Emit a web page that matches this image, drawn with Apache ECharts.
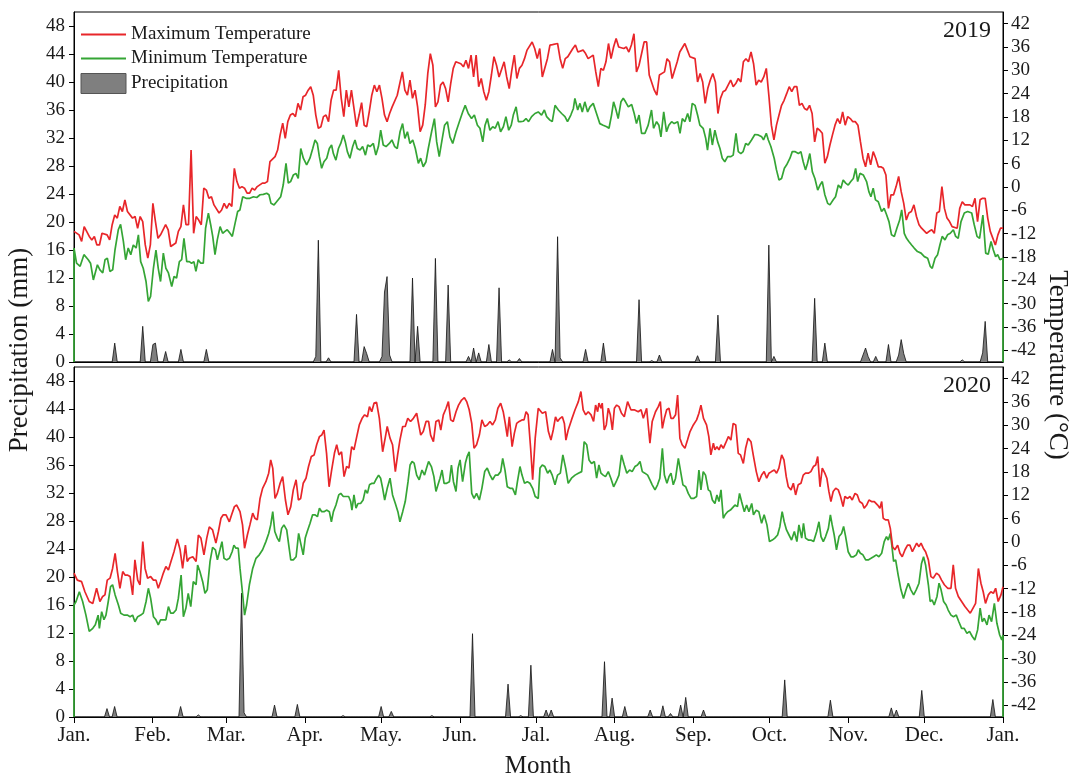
<!DOCTYPE html>
<html><head><meta charset="utf-8">
<script src="https://cdn.jsdelivr.net/npm/echarts@6/dist/echarts.min.js"></script>
<style>html,body{margin:0;padding:0;background:#fff}#c{width:1069px;height:777px}</style>
</head><body><div id="c"></div>
<script>
// ---------- data ----------
const monthLabels = ['Jan.','Feb.','Mar.','Apr.','May.','Jun.','Jal.','Aug.','Sep.','Oct.','Nov.','Dec.','Jan.'];
const monthStarts2019 = [0,31,59,90,120,151,181,212,243,273,304,334,365];
const monthStarts2020 = [0,31,60,91,121,152,182,213,244,274,305,335,366];
const precipTicks = [0,4,8,12,16,20,24,28,32,36,40,44,48];
const tempTicks = [-42,-36,-30,-24,-18,-12,-6,0,6,12,18,24,30,36,42];
const tempFloor = -45;

// [day of year, °C]
const maxT2019 = [[0,-11.4],[2,-12.3],[3,-14.0],[4,-10.2],[6,-12.7],[7,-13.6],[8,-12.7],[9,-14.9],[10,-14.9],[11,-11.9],[13,-12.3],[14,-13.6],[15,-9.7],[16,-7.2],[17,-8.0],[18,-5.0],[19,-6.3],[20,-3.3],[21,-6.3],[23,-8.0],[24,-7.6],[25,-10.6],[26,-7.6],[27,-8.9],[28,-14.9],[29,-18.3],[30,-14.9],[31,-4.2],[32,-8.9],[33,-13.2],[34,-12.3],[36,-9.7],[37,-11.0],[38,-15.3],[40,-14.4],[41,-11.4],[42,-10.2],[43,-4.6],[44,-9.7],[45,-9.7],[46,9.5],[47,-11.9],[48,-7.6],[49,-8.5],[50,-9.7],[51,-0.3],[52,-0.8],[53,-2.9],[54,-2.5],[55,-4.6],[57,-6.7],[58,-5.9],[59,-4.2],[60,-5.5],[61,-4.2],[62,-5.0],[63,4.8],[64,1.4],[65,-0.3],[66,0.1],[67,-0.3],[68,-1.6],[69,-1.6],[70,-0.3],[71,-0.8],[72,0.1],[74,1.0],[75,1.0],[76,1.4],[77,6.5],[79,7.8],[80,9.5],[81,13.4],[82,16.4],[83,12.5],[84,16.8],[85,18.5],[86,18.9],[87,18.1],[88,21.5],[89,19.8],[90,23.2],[91,23.6],[92,24.9],[93,25.8],[94,23.6],[95,18.5],[96,15.1],[97,15.5],[98,18.1],[99,18.5],[100,16.8],[101,22.3],[102,24.9],[103,24.9],[104,30.0],[105,22.8],[106,18.1],[107,24.9],[108,20.6],[109,24.9],[110,20.2],[111,15.5],[112,18.5],[113,21.7],[114,15.9],[115,15.5],[116,19.3],[117,23.6],[118,26.2],[119,24.5],[120,26.2],[121,22.8],[122,18.5],[123,16.8],[124,18.9],[125,20.6],[127,23.6],[128,26.6],[129,29.6],[130,24.9],[131,23.6],[132,27.5],[133,22.8],[134,24.9],[135,20.6],[136,14.2],[137,15.9],[138,21.1],[139,29.2],[140,34.3],[141,31.3],[142,20.6],[143,21.9],[144,26.2],[145,27.0],[146,25.3],[147,21.9],[148,26.6],[149,30.5],[150,32.2],[152,31.7],[153,30.9],[154,32.6],[155,30.5],[156,33.9],[157,28.3],[158,33.9],[159,25.8],[160,27.9],[161,24.5],[162,22.3],[163,24.5],[164,28.8],[165,33.5],[166,31.3],[167,28.3],[169,32.2],[170,28.3],[171,25.3],[172,30.0],[173,33.9],[174,27.9],[175,30.5],[176,31.3],[177,33.0],[178,35.2],[180,37.3],[181,35.6],[182,33.0],
[183,35.6],[184,28.3],[186,33.0],[187,36.5],[188,36.6],[190,36.9],[191,33.0],[192,30.5],[193,33.0],[194,33.5],[196,35.6],[197,36.5],[198,34.7],[200,35.2],[201,34.3],[202,33.0],[204,33.9],[205,29.6],[206,25.8],[207,30.5],[208,30.0],[209,32.2],[210,36.9],[211,33.0],[212,36.0],[213,38.2],[214,36.0],[216,35.6],[217,36.0],[218,34.7],[219,36.5],[220,39.4],[221,29.6],[222,31.3],[224,37.3],[225,37.3],[226,28.8],[228,24.9],[229,23.6],[230,28.8],[232,29.6],[233,33.0],[234,32.2],[235,27.9],[237,32.2],[238,34.7],[240,36.9],[241,35.2],[242,33.5],[244,33.0],[245,27.0],[246,29.2],[247,27.0],[248,21.5],[249,25.3],[250,27.5],[251,29.2],[252,27.0],[253,18.9],[254,22.8],[255,24.5],[256,24.9],[257,26.2],[258,27.5],[259,25.8],[260,26.6],[261,27.9],[262,27.0],[263,32.2],[264,33.0],[265,32.2],[266,34.7],[267,31.7],[268,26.2],[269,27.5],[270,27.0],[271,28.3],[272,30.5],[273,23.6],[274,15.9],[275,12.1],[276,15.9],[277,18.5],[278,21.0],[279,22.3],[280,24.0],[281,25.8],[282,24.5],[283,25.8],[284,25.8],[285,21.0],[286,21.5],[287,20.2],[288,19.8],[289,21.0],[290,18.9],[291,11.6],[292,15.1],[293,14.6],[294,13.8],[295,6.1],[296,7.8],[297,10.8],[298,13.4],[299,15.9],[300,17.6],[301,16.3],[302,19.3],[303,15.9],[304,18.1],[305,17.6],[306,16.8],[307,16.8],[308,15.9],[309,11.6],[310,7.4],[311,5.2],[312,8.7],[313,5.7],[314,9.1],[315,7.4],[316,5.2],[317,5.2],[318,4.8],[319,3.1],[320,-5.5],[321,-2.0],[322,-2.0],[323,0.1],[324,2.7],[325,-1.2],[326,-4.2],[327,-8.5],[328,-6.7],[329,-6.3],[330,-4.6],[331,-7.6],[332,-9.7],[333,-10.6],[335,-11.9],[336,-11.4],[337,-11.0],[338,-11.9],[339,-6.7],[340,-6.3],[341,0.1],[342,-5.5],[343,-8.0],[344,-8.9],[345,-10.2],[347,-10.6],[348,-5.5],[349,-3.8],[350,-4.6],[352,-4.6],[353,-5.0],[354,-2.9],[355,-8.9],[356,-3.3],[357,-2.9],[358,-2.9],[359,-8.0],[360,-11.4],[362,-14.9],[363,-12.3],[364,-10.6],[365,-10.6]];

const minT2019 = [[0,-15.7],[1,-19.6],[2.4,-20.4],[3.9,-17.4],[5.6,-18.7],[6.5,-19.6],[7.6,-23.9],[8.3,-24.3],[9.2,-20.0],[10.2,-21.3],[11.3,-22.1],[12.2,-18.7],[13.1,-18.3],[14.1,-21.7],[15.2,-21.3],[16.1,-16.2],[17.4,-11.0],[18.3,-9.6],[19.4,-14.0],[20.3,-18.7],[21.3,-15.7],[22.3,-17.4],[23.3,-14.9],[24.4,-15.7],[25.3,-12.3],[26.2,-19.2],[27.2,-20.9],[28.3,-24.3],[29.2,-29.4],[30.1,-28.1],[31.2,-20.9],[32.2,-16.2],[33.1,-20.9],[34.0,-24.3],[35.1,-17.0],[36.1,-20.9],[37.1,-22.1],[38.4,-25.6],[39.3,-23.0],[40.3,-23.4],[41.4,-19.2],[42.3,-18.7],[43.2,-13.2],[44.3,-19.2],[45.3,-19.2],[46.2,-19.6],[47.1,-19.2],[47.9,-21.7],[48.8,-18.7],[49.8,-19.6],[50.8,-19.6],[51.7,-10.6],[52.8,-6.7],[53.7,-9.7],[54.5,-12.7],[55.4,-17.4],[56.3,-13.6],[57.4,-10.2],[58.4,-11.9],[59.3,-11.4],[60.2,-11.0],[61.3,-11.9],[62.2,-12.7],[63.3,-9.3],[64.3,-6.3],[65.2,-5.9],[66.3,-2.5],[67.6,-2.9],[69.1,-2.9],[70.5,-2.5],[71.8,-2.7],[73.1,-2.0],[74.4,-1.9],[75.7,-1.6],[76.6,-2.0],[77.4,-4.2],[78.6,-4.6],[79.6,-3.8],[81.2,-2.5],[82.2,0.5],[83.3,6.1],[84.2,1.0],[85.1,1.4],[86.2,3.1],[87.2,3.5],[88.1,2.2],[89.1,9.9],[90.1,7.4],[91.4,5.7],[92.7,7.4],[93.8,9.9],[94.7,12.1],[95.6,11.2],[96.4,7.8],[97.3,4.8],[98.2,6.5],[99.3,7.4],[100.3,9.9],[101.2,10.8],[101.9,8.6],[102.9,6.9],[103.9,9.9],[104.8,11.2],[105.8,13.4],[106.6,11.6],[107.4,9.1],[108.4,7.4],[109.5,10.4],[110.4,12.1],[111.3,9.9],[112.4,9.5],[113.4,10.4],[114.5,8.2],[115.4,10.8],[116.3,10.4],[117.6,11.2],[118.6,8.2],[119.6,10.4],[120.5,14.6],[121.5,10.8],[122.6,10.4],[123.9,11.2],[124.9,12.1],[126.0,10.4],[127.0,9.9],[128.1,14.2],[129.1,16.3],[130.0,12.5],[131.0,14.2],[132.0,11.2],[133.1,12.1],[134.1,9.9],[135.3,6.1],[136.2,7.4],[137.2,5.2],[138.3,6.5],[139.2,9.9],[140.5,14.2],[141.6,17.6],[142.5,11.6],[143.5,7.8],[144.6,12.1],[145.6,15.9],[146.7,16.8],[147.7,12.9],[148.8,11.2],[150.1,14.2],[151.4,16.8],[152.7,19.3],[153.7,21.0],[154.9,18.9],[156.2,17.6],[157.3,18.5],[158.5,15.9],[159.5,15.1],[160.6,11.6],[161.5,15.9],[162.4,17.6],[163.4,14.6],[164.5,15.5],[165.5,15.1],[166.6,16.8],[167.6,14.2],[168.7,15.5],[169.7,18.1],[170.8,14.6],[171.8,15.9],[172.6,18.5],[173.7,20.6],[174.6,16.8],[175.5,16.8],[176.5,16.9],[177.6,17.6],[178.6,16.8],[179.8,18.1],[181.1,18.9],[182.4,19.3],
[183.1,19.8],[183.7,18.5],[184.8,19.8],[185.7,18.1],[187.0,17.2],[187.9,16.8],[189.0,21.0],[190.3,19.8],[191.6,18.9],[192.9,18.1],[193.9,16.8],[195.2,18.5],[196.2,20.2],[196.8,22.8],[197.9,19.8],[198.8,21.5],[199.7,19.3],[200.7,21.9],[201.8,19.3],[202.7,20.6],[204.0,21.5],[205.3,18.9],[206.6,16.3],[207.9,15.9],[209.3,15.5],[210.2,15.1],[211.2,18.5],[212.0,21.9],[212.8,20.2],[213.8,17.6],[214.9,21.9],[215.8,22.8],[216.7,21.9],[217.8,20.6],[219.1,21.2],[220.1,18.9],[221.0,16.3],[222.0,18.5],[223.0,13.8],[224.3,13.8],[225.6,15.9],[226.9,19.8],[227.7,15.1],[228.9,16.8],[229.8,15.9],[230.6,12.9],[231.7,19.3],[232.8,14.2],[233.7,15.9],[234.8,16.8],[235.8,16.3],[237.2,16.8],[238.1,13.8],[239.0,17.6],[240.0,16.8],[241.1,18.9],[242.0,16.8],[242.9,21.5],[244.0,21.0],[245.0,18.5],[245.9,15.9],[247.2,15.1],[248.2,12.5],[248.9,9.5],[249.9,15.1],[250.8,10.8],[251.8,14.6],[252.9,11.6],[253.8,9.9],[254.7,7.4],[255.7,6.5],[256.8,7.8],[258.1,7.8],[259.0,8.2],[260.1,13.8],[261.0,9.1],[262.0,8.6],[262.9,9.1],[263.9,11.2],[264.9,10.8],[266.2,12.1],[267.5,13.5],[268.8,13.4],[270.2,12.9],[270.9,12.1],[272.0,13.8],[272.8,12.1],[273.8,10.4],[275.1,7.4],[276.0,4.4],[277.0,1.8],[278.0,2.2],[279.1,4.8],[280.0,5.7],[281.3,7.4],[282.2,9.1],[283.2,9.1],[284.6,8.6],[285.6,9.1],[286.5,6.5],[287.4,4.4],[288.2,6.1],[289.1,8.6],[290.1,3.9],[291.1,2.2],[292.2,-0.8],[293.1,0.5],[294.0,1.4],[295.0,-2.0],[296.1,-4.2],[297.0,-4.6],[298.3,-3.3],[299.2,-2.5],[300.3,0.5],[301.3,-0.3],[302.2,1.8],[303.2,1.0],[304.2,0.5],[305.2,1.4],[306.2,2.2],[307.1,4.8],[307.9,1.4],[308.8,3.5],[310.1,3.1],[311.4,1.4],[312.3,-1.2],[313.1,-2.5],[314.0,-0.3],[314.9,-3.3],[316.0,-3.8],[317.3,-6.3],[318.3,-5.5],[319.3,-7.2],[320.2,-8.9],[321.2,-12.3],[322.3,-12.7],[323.3,-10.6],[324.4,-8.5],[325.2,-5.9],[326.2,-11.9],[327.1,-13.2],[328.0,-14.0],[329.1,-14.9],[330.1,-15.7],[331.4,-16.6],[332.8,-17.0],[334.1,-17.9],[335.4,-18.3],[336.4,-20.4],[337.2,-20.9],[338.3,-18.3],[339.3,-17.4],[340.2,-14.9],[341.1,-12.7],[342.2,-13.6],[343.2,-12.3],[344.3,-11.9],[345.5,-11.0],[346.4,-12.7],[347.4,-13.2],[348.5,-8.9],[349.8,-6.7],[351.1,-6.3],[352.7,-6.7],[353.7,-9.7],[354.8,-12.7],[355.8,-13.2],[357.1,-7.2],[358.2,-17.0],[359.2,-17.3],[360.3,-14.0],[361.2,-16.2],[362.1,-17.9],[362.9,-17.4],[363.8,-18.7],[365,-18.3]];

// [day of year, mm] (days not listed: 0 mm)
const precip2019 = [[16,2.7],[27,5.1],[31,2.5],[32,2.7],[36,1.5],[42,1.8],[52,1.8],[95,0.8],[96,17.4],[100,0.6],[111,6.8],[114,2.2],[115,1.2],[121,0.8],[122,10.0],[123,12.2],[124,1.0],[133,12.0],[135,5.1],[142,14.8],[147,11.0],[155,0.8],[157,2.0],[159,1.3],[163,2.5],[167,10.6],[171,0.3],[175,0.5],[188,1.8],[190,17.9],[191,0.6],[201,1.8],[208,2.7],[222,8.9],[227,0.2],[230,1.0],[245,0.9],[253,6.7],[273,16.7],[275,0.8],[291,9.1],[295,2.7],[310,1.0],[311,2.0],[312,0.8],[315,0.8],[320,2.5],[324,1.0],[325,3.2],[326,1.2],[349,0.3],[357,1.3],[358,5.8]];

const maxT2020 = [[0,-8.0],[1.3,-9.8],[3.0,-10.2],[4.3,-12.8],[6.0,-15.3],[7.4,-15.8],[8.9,-11.9],[10.2,-15.3],[11.3,-14.0],[12.2,-13.6],[13.1,-9.8],[14.2,-9.3],[15.2,-6.8],[16.2,-2.9],[17.1,-7.6],[18.1,-11.9],[19.2,-7.6],[20.1,-8.5],[21.0,-8.5],[22.1,-8.9],[23.1,-13.6],[24.0,-4.6],[25.1,-9.8],[26.0,-11.0],[27.1,0.1],[28.0,-6.8],[29.0,-9.3],[30.2,-8.9],[31.3,-9.8],[32.3,-9.8],[33.2,-11.9],[34.1,-10.2],[35.2,-8.0],[36.2,-6.3],[37.2,-7.2],[38.2,-5.0],[39.4,-2.5],[40.7,0.8],[41.8,-2.0],[42.8,-6.8],[43.9,-0.8],[44.6,-5.0],[45.4,-4.2],[46.8,-3.8],[48.1,-5.0],[49.0,1.8],[50.0,1.0],[51.2,-3.3],[52.3,1.0],[53.3,3.9],[54.6,3.1],[55.9,-0.3],[56.9,2.7],[57.9,6.1],[58.8,7.0],[59.9,7.0],[61.2,5.2],[62.1,7.0],[63.2,9.1],[64.1,9.5],[65.4,7.8],[66.4,4.4],[67.2,-1.6],[68.3,1.8],[69.3,4.4],[70.4,7.4],[71.3,6.1],[72.2,5.7],[73.3,11.2],[74.3,13.8],[75.6,15.5],[76.7,17.7],[77.5,21.1],[78.3,19.0],[79.2,11.2],[80.1,12.5],[81.2,15.1],[82.2,16.8],[83.3,10.8],[84.3,7.0],[85.4,9.1],[86.4,13.4],[87.5,16.0],[88.4,10.8],[89.3,11.2],[90.3,15.1],[91.4,16.4],[92.4,19.4],[93.5,22.0],[94.6,22.4],[95.6,25.0],[96.7,27.1],[97.6,27.5],[98.5,28.8],[99.5,22.8],[100.5,14.2],[101.5,18.5],[102.6,22.8],[103.5,25.0],[104.4,22.4],[105.4,23.2],[106.4,16.8],[107.4,19.4],[108.3,19.0],[109.4,24.5],[110.3,23.7],[111.4,27.1],[112.4,30.1],[113.5,31.8],[114.5,32.7],[115.6,32.2],[116.4,34.8],[117.3,33.5],[118.2,35.7],[119.2,35.9],[120.3,31.8],[121.6,23.2],[122.7,27.1],[123.4,29.7],[124.5,26.7],[125.5,25.0],[126.6,18.1],[127.5,22.4],[128.4,26.2],[129.5,29.7],[130.5,29.7],[131.5,31.8],[132.6,31.0],[133.7,31.8],[135.0,33.1],[135.7,33.5],[136.6,27.5],[137.6,28.4],[138.7,31.0],[139.7,31.0],[140.5,27.5],[141.6,25.8],[142.6,31.0],[143.7,31.4],[144.5,28.8],[145.5,32.7],[146.6,34.4],[147.5,36.1],[148.4,31.4],[149.4,31.0],[150.5,33.5],[151.5,35.2],[152.7,36.5],[153.8,37.1],[154.7,36.1],[155.7,34.0],[156.7,30.5],[157.6,24.1],[158.6,25.0],[159.7,27.5],[160.7,31.4],[161.8,29.7],[162.8,30.1],[163.9,31.0],[164.9,30.1],[166.0,31.4],[167.0,34.4],[168.1,35.7],[169.1,33.5],[169.9,30.5],[170.7,27.1],[171.5,32.2],[172.6,24.5],[173.5,28.0],[174.4,30.5],[175.4,31.0],[176.5,31.4],[177.3,31.4],[178.1,33.5],[178.9,32.7],[179.9,24.1],[180.7,16.0],[181.7,26.7],[182.9,34.4],
[184.5,33.1],[185.8,33.5],[186.9,28.4],[187.9,26.2],[188.8,28.8],[189.7,32.2],[190.5,31.0],[191.5,31.8],[192.4,32.2],[193.2,30.5],[193.8,26.2],[194.7,28.8],[196.0,31.4],[197.4,34.0],[198.7,36.1],[199.7,38.7],[200.6,34.0],[201.6,32.7],[202.6,33.5],[203.7,32.7],[204.7,31.0],[205.5,35.2],[206.3,33.5],[206.8,35.7],[207.6,34.4],[208.1,35.7],[208.9,28.8],[209.7,30.1],[210.5,34.4],[211.3,32.7],[212.1,28.8],[212.9,34.4],[213.8,35.2],[214.7,34.8],[215.7,33.1],[216.8,32.2],[218.1,36.1],[219.4,34.0],[220.7,34.0],[222.3,33.5],[223.4,34.0],[224.3,31.8],[225.6,34.4],[226.9,25.4],[227.8,31.0],[229.1,33.5],[230.2,34.8],[231.0,36.1],[231.8,29.2],[232.6,31.8],[233.5,34.0],[234.4,34.4],[235.2,31.8],[236.1,31.8],[237.0,32.7],[237.8,37.8],[238.7,26.7],[239.6,25.0],[240.7,24.1],[241.7,26.2],[242.7,28.4],[244.0,30.1],[245.3,31.4],[246.2,33.1],[247.0,35.2],[248.0,31.8],[249.2,30.1],[250.1,27.1],[250.9,22.4],[251.9,25.4],[252.5,23.7],[253.3,24.5],[254.1,23.7],[254.9,25.0],[255.8,24.1],[256.7,25.4],[257.8,27.1],[258.8,26.2],[259.7,30.5],[260.7,30.1],[261.7,22.8],[262.6,22.4],[263.7,20.2],[264.6,24.1],[265.6,26.7],[266.7,25.8],[267.7,22.0],[268.8,18.1],[269.8,15.5],[270.9,17.2],[271.9,18.1],[272.9,16.4],[273.8,17.7],[274.8,18.1],[275.9,18.5],[276.8,17.7],[277.7,19.0],[278.8,22.4],[279.7,21.1],[280.6,16.8],[281.4,14.2],[282.5,13.4],[283.4,15.1],[284.3,12.1],[285.3,14.7],[286.4,15.1],[287.3,17.2],[288.2,17.7],[289.3,17.7],[290.3,18.1],[291.3,19.4],[292.2,19.8],[293.0,22.0],[293.9,14.2],[294.8,19.0],[295.8,17.7],[296.6,16.4],[297.4,13.0],[298.2,10.4],[299.1,13.0],[300.1,13.8],[301.1,13.4],[302.0,11.7],[303.0,9.1],[303.7,11.7],[304.8,11.2],[305.7,11.7],[306.6,10.8],[307.7,12.5],[308.6,12.1],[309.5,10.4],[310.6,9.9],[311.3,8.7],[312.3,9.5],[313.2,10.8],[314.2,10.4],[315.3,10.4],[316.6,9.5],[317.5,8.7],[318.2,10.4],[318.8,6.1],[319.7,5.7],[320.8,5.7],[321.6,3.5],[322.5,-1.2],[323.4,-2.0],[324.5,-0.8],[325.4,-2.9],[326.3,-3.8],[327.4,-2.0],[328.4,-0.8],[329.3,-0.8],[330.3,-2.5],[331.0,-2.9],[332.0,-0.3],[332.9,-1.2],[333.7,-0.3],[334.6,-1.6],[335.5,-2.5],[336.6,-4.6],[337.6,-8.9],[338.5,-9.3],[339.8,-8.0],[340.8,-8.5],[341.8,-9.8],[342.9,-11.0],[344.2,-11.9],[345.5,-11.9],[346.4,-5.9],[347.3,-11.9],[348.4,-14.0],[349.7,-15.3],[351.0,-16.6],[352.1,-17.5],[353.1,-18.3],[354.2,-17.0],[355.2,-15.8],[356.3,-6.8],[357.3,-10.6],[358.2,-12.8],[359.1,-15.8],[360.2,-13.6],[361.2,-12.8],[362.2,-13.2],[363.1,-11.9],[364.1,-15.3],[365.2,-13.6],[366,-11.5]];

const minT2020 = [[0,-16.2],[0.8,-15.3],[2.1,-12.8],[3.4,-15.3],[4.7,-18.8],[6.0,-23.0],[7.4,-22.2],[8.4,-21.3],[9.5,-18.8],[10.0,-22.2],[10.9,-17.9],[11.8,-20.0],[12.6,-18.8],[13.5,-15.3],[14.4,-11.5],[15.2,-11.0],[16.2,-13.6],[17.5,-16.2],[18.4,-18.3],[19.7,-18.8],[21.0,-18.8],[22.1,-19.2],[23.1,-18.8],[24.0,-20.5],[25.1,-19.2],[26.3,-18.8],[27.3,-18.3],[28.4,-15.3],[29.3,-11.9],[30.2,-14.5],[31.3,-19.2],[32.3,-20.0],[33.2,-21.3],[34.1,-20.0],[35.2,-20.0],[36.2,-20.0],[37.2,-16.6],[38.1,-18.3],[39.1,-18.3],[40.2,-17.5],[41.1,-14.5],[42.2,-8.5],[43.1,-19.2],[44.1,-17.0],[45.0,-13.2],[46.0,-16.6],[47.0,-10.2],[48.1,-11.0],[48.7,-5.9],[49.6,-7.6],[50.7,-10.2],[51.6,-13.2],[52.5,-12.3],[53.6,-5.0],[54.6,-1.4],[55.7,-2.0],[56.5,-4.6],[57.5,-2.0],[58.3,0.1],[59.1,-4.2],[60.1,-4.6],[61.2,-4.2],[62.3,-2.5],[63.0,-0.8],[63.8,-1.6],[64.7,-1.6],[65.4,-6.8],[66.2,-11.9],[66.7,-15.3],[67.2,-18.8],[68.0,-16.2],[69.1,-11.0],[70.4,-6.8],[71.7,-4.2],[73.0,-3.3],[74.3,-2.0],[75.6,0.1],[76.7,2.2],[77.5,4.4],[78.3,7.8],[79.1,2.7],[80.1,1.0],[80.9,0.1],[81.8,3.5],[82.7,4.4],[83.8,3.1],[84.6,-0.8],[85.4,-4.6],[86.4,-4.6],[87.5,-3.8],[88.5,2.2],[89.3,-0.3],[90.3,-3.3],[91.1,1.0],[91.9,2.7],[93.0,4.8],[94.0,7.0],[95.0,7.0],[95.9,6.5],[96.7,8.7],[97.6,7.8],[98.5,7.8],[99.5,8.2],[100.6,7.8],[101.4,5.2],[102.2,7.8],[103.2,9.5],[104.3,12.1],[105.1,12.5],[106.1,11.7],[107.2,11.7],[108.2,11.7],[109.0,10.4],[109.5,8.2],[110.3,12.1],[111.1,8.7],[111.9,9.9],[112.9,9.9],[113.9,10.8],[114.8,13.4],[115.6,12.5],[116.4,14.7],[117.4,15.1],[118.2,15.1],[118.9,16.0],[120.0,17.2],[120.8,16.4],[121.6,13.8],[122.4,10.8],[123.4,13.8],[124.5,16.4],[125.5,12.1],[126.6,9.9],[127.6,7.8],[128.4,5.2],[129.5,7.8],[130.5,10.4],[131.6,15.5],[132.4,19.8],[133.2,20.7],[134.0,20.3],[135.0,17.2],[136.0,16.0],[137.1,18.5],[138.1,17.2],[138.9,19.0],[139.7,20.7],[140.8,19.4],[141.8,16.8],[142.6,13.0],[143.4,14.7],[144.2,16.4],[145.0,18.5],[145.8,15.1],[146.8,15.1],[147.9,15.5],[148.7,19.8],[149.5,15.5],[150.5,13.0],[151.3,19.0],[152.1,21.1],[153.1,15.5],[154.2,20.3],[154.9,22.0],[155.7,23.2],[156.7,12.5],[157.6,11.2],[158.6,12.5],[159.7,10.8],[160.7,13.8],[161.8,18.1],[162.8,19.0],[163.9,17.2],[164.9,16.0],[166.0,17.2],[167.0,17.2],[168.1,18.1],[168.9,21.5],[169.8,18.5],[170.7,14.2],[171.8,13.8],[172.8,13.8],[173.9,12.1],[174.7,15.5],[175.7,19.4],[176.5,17.2],[177.5,15.1],[178.6,15.5],[179.6,15.1],[180.7,13.8],[181.7,11.7],[182.9,11.2],
[183.6,19.0],[184.5,19.8],[185.5,19.4],[186.6,17.7],[187.5,18.5],[188.4,17.2],[189.5,14.7],[190.5,17.2],[191.6,17.7],[192.6,22.4],[193.7,19.0],[194.7,15.1],[196.0,16.4],[197.4,17.2],[198.7,17.7],[200.0,18.1],[201.0,25.8],[202.0,25.0],[202.9,21.1],[203.9,20.2],[205.0,20.7],[205.9,16.4],[206.8,19.8],[207.6,17.7],[208.5,17.2],[209.4,16.8],[210.5,18.1],[211.5,16.4],[212.6,14.2],[213.6,15.5],[214.7,17.2],[215.7,22.4],[216.8,19.8],[217.8,17.7],[218.9,18.5],[219.9,18.1],[221.0,19.4],[222.0,19.8],[223.0,20.7],[223.9,18.1],[224.9,17.7],[226.0,17.2],[226.9,16.0],[227.8,14.7],[228.9,13.4],[229.9,14.7],[230.8,16.4],[231.8,24.1],[232.6,17.2],[233.6,15.1],[234.4,16.8],[235.2,17.7],[236.1,14.7],[237.0,16.4],[238.1,21.5],[239.0,18.1],[239.9,14.7],[241.0,14.2],[242.0,12.5],[243.1,11.2],[244.1,11.2],[245.3,11.7],[246.2,18.5],[247.0,13.4],[247.9,18.1],[248.8,17.2],[249.9,13.4],[250.7,13.0],[251.5,10.8],[252.5,9.9],[253.3,12.1],[254.1,10.4],[254.9,13.4],[255.8,6.1],[256.5,7.0],[257.5,7.8],[258.6,8.2],[259.3,8.2],[260.4,9.5],[261.4,9.1],[262.2,12.5],[263.0,10.4],[264.1,7.8],[265.0,9.5],[265.9,7.8],[267.0,9.9],[267.7,7.0],[268.8,8.2],[269.8,7.8],[270.9,4.8],[271.9,7.0],[273.0,4.4],[274.0,0.1],[275.1,0.5],[276.1,1.0],[277.2,1.8],[278.1,4.0],[279.0,7.8],[279.8,5.2],[280.7,3.1],[281.7,1.8],[282.7,0.5],[283.8,2.7],[284.8,0.1],[285.6,4.4],[286.7,1.0],[287.4,4.8],[288.2,1.0],[289.3,0.5],[290.3,0.5],[291.4,0.1],[292.6,2.7],[293.5,5.2],[294.3,1.4],[295.2,0.1],[296.1,1.4],[297.2,3.5],[298.0,7.0],[298.7,4.4],[299.5,1.8],[300.4,-2.0],[301.4,1.4],[302.4,2.2],[303.2,4.0],[304.0,1.4],[305.0,-2.5],[306.1,-3.8],[307.1,-3.8],[308.2,-3.3],[309.0,-2.0],[309.8,-2.9],[310.8,-3.3],[311.9,-4.6],[312.9,-4.6],[314.0,-4.2],[315.0,-3.8],[316.1,-3.3],[317.1,-3.8],[318.2,-2.9],[319.2,0.1],[320.1,1.4],[320.8,0.5],[321.6,2.2],[322.1,-0.3],[322.9,-5.0],[323.7,-4.6],[324.7,-8.5],[325.8,-12.3],[326.8,-14.5],[327.8,-12.3],[328.7,-10.6],[329.7,-12.3],[330.8,-13.6],[331.8,-12.3],[332.9,-10.6],[333.9,-5.5],[334.7,-3.8],[335.5,-5.9],[336.6,-11.0],[337.3,-15.3],[338.1,-14.9],[338.9,-16.2],[340.0,-14.0],[340.8,-10.6],[341.6,-12.3],[342.6,-15.3],[343.6,-16.2],[344.4,-17.5],[345.5,-18.8],[346.5,-19.2],[347.6,-18.8],[348.6,-20.5],[349.7,-22.2],[350.7,-22.2],[351.8,-23.5],[352.8,-23.0],[353.9,-24.3],[354.9,-25.2],[356.0,-22.6],[357.0,-17.0],[357.8,-20.5],[358.6,-19.6],[359.7,-21.3],[360.5,-18.8],[361.5,-20.5],[362.6,-15.8],[363.6,-20.9],[364.7,-23.9],[365.5,-25.2],[366,-23.9]];

const precip2020 = [[13,1.2],[16,1.5],[42,1.5],[49,0.3],[66,17.7],[67,0.6],[79,1.7],[88,1.8],[106,0.2],[121,1.5],[125,0.8],[141,0.2],[157,11.9],[171,4.7],[176,0.2],[180,7.4],[186,1.0],[188,1.0],[209,7.9],[212,2.7],[217,1.5],[227,1.0],[232,1.6],[235,0.5],[239,1.7],[241,2.8],[248,1.0],[280,5.3],[298,2.4],[322,1.3],[324,1.0],[334,3.8],[362,2.5]];

// ---------- chart ----------
const FONT = '"Liberation Serif","Times New Roman",serif';
const RED = '#e8262a', GREEN = '#35a535', GRAY = '#7f7f7f';

function dailyPrecip(sparse, lastDay) {
  const m = new Map(sparse);
  const out = [];
  for (let d = 0; d <= lastDay; d++) out.push([d, m.has(d) ? m.get(d) : 0]);
  return out;
}
function withFloor(arr, lastDay) { return [[0, tempFloor]].concat(arr, [[lastDay, tempFloor]]); }

const chart = echarts.init(document.getElementById('c'), null, {renderer: 'canvas'});
const lab = {fontFamily: FONT, fontSize: 19, color: '#1a1a1a'};

function yAxes(gi) {
  return [
    {type:'value', gridIndex:gi, position:'left', min:0, max:50,
     axisLine:{show:true, lineStyle:{color:'#000', width:1}},
     axisTick:{show:true, length:5, customValues:precipTicks, lineStyle:{color:'#000'}},
     axisLabel:Object.assign({customValues:precipTicks, margin:9}, lab),
     splitLine:{show:false}},
    {type:'value', gridIndex:gi, position:'right', min:tempFloor, max:45,
     axisLine:{show:true, lineStyle:{color:'#000', width:1}},
     axisTick:{show:true, length:5, customValues:tempTicks, lineStyle:{color:'#000'}},
     axisLabel:Object.assign({customValues:tempTicks, margin:8}, lab),
     splitLine:{show:false}}
  ];
}
function monthFmt(starts) {
  return function (v) { const i = starts.indexOf(Math.round(v)); return i >= 0 ? monthLabels[i] : ''; };
}

function seriesFor(xi, yiP, yiT, maxT, minT, precip, lastDay) {
  return [
    {name:'Precipitation', type:'line', xAxisIndex:xi, yAxisIndex:yiP, data:dailyPrecip(precip, lastDay),
     symbol:'none', lineStyle:{color:'#111', width:0.8}, itemStyle:{color:GRAY},
     areaStyle:{color:GRAY, opacity:1}, z:1},
    {name:'Maximum Temperature', type:'line', xAxisIndex:xi, yAxisIndex:yiT, data:maxT,
     symbol:'none', lineStyle:{color:RED, width:1.7}, itemStyle:{color:RED}, z:3},
    {name:'Minimum Temperature', type:'line', xAxisIndex:xi, yAxisIndex:yiT, data:withFloor(minT, lastDay),
     symbol:'none', lineStyle:{color:GREEN, width:1.7}, itemStyle:{color:GREEN}, z:2}
  ];
}

const option = {
  animation:false,
  backgroundColor:'#fff',
  grid:[
    {left:74, right:66, top:12, height:350, show:true, borderColor:'#000', borderWidth:1, backgroundColor:'transparent'},
    {left:74, right:66, top:367, height:350, show:true, borderColor:'#000', borderWidth:1, backgroundColor:'transparent'}
  ],
  xAxis:[
    {type:'value', gridIndex:0, min:0, max:365, axisLine:{show:true, lineStyle:{color:'#000'}},
     axisTick:{show:false}, axisLabel:{show:false}, splitLine:{show:false}},
    {type:'value', gridIndex:1, min:0, max:366, axisLine:{show:true, lineStyle:{color:'#000'}},
     axisTick:{show:true, length:6, customValues:monthStarts2020, lineStyle:{color:'#000'}},
     axisLabel:{customValues:monthStarts2020, formatter:monthFmt(monthStarts2020), margin:8,
       showMinLabel:true, showMaxLabel:true, fontSize:21, fontFamily:FONT, color:'#1a1a1a'},
     splitLine:{show:false}}
  ],
  yAxis: yAxes(0).concat(yAxes(1)),
  legend:{
    orient:'vertical', left:80, top:25, padding:0, itemWidth:45, itemHeight:20, itemGap:5,
    textStyle:{fontFamily:FONT, fontSize:19, color:'#1a1a1a'},
    data:[
      {name:'Maximum Temperature', itemStyle:{opacity:0}, lineStyle:{opacity:1, width:2}},
      {name:'Minimum Temperature', itemStyle:{opacity:0}, lineStyle:{opacity:1, width:2}},
      {name:'Precipitation', icon:'rect', itemStyle:{color:GRAY, borderColor:'#555', borderWidth:1}}
    ]
  },
  series: seriesFor(0, 0, 1, maxT2019, minT2019, precip2019, 365)
    .concat(seriesFor(1, 2, 3, maxT2020, minT2020, precip2020, 366)),
  graphic:[
    {type:'text', x:991, y:31, style:{text:'2019', font:'24px '+FONT, fill:'#1a1a1a', align:'right', verticalAlign:'middle'}},
    {type:'text', x:991, y:386, style:{text:'2020', font:'24px '+FONT, fill:'#1a1a1a', align:'right', verticalAlign:'middle'}},
    {type:'text', x:538, y:766, style:{text:'Month', font:'25px '+FONT, fill:'#1a1a1a', align:'center', verticalAlign:'middle'}},
    {type:'text', x:20, y:350, rotation:Math.PI/2, style:{text:'Precipitation (mm)', font:'27px '+FONT, fill:'#1a1a1a', align:'center', verticalAlign:'middle'}},
    {type:'text', x:1057, y:365, rotation:-Math.PI/2, style:{text:'Temperature (°C)', font:'27px '+FONT, fill:'#1a1a1a', align:'center', verticalAlign:'middle'}}
  ]
};
chart.setOption(option);
</script>
</body></html>
